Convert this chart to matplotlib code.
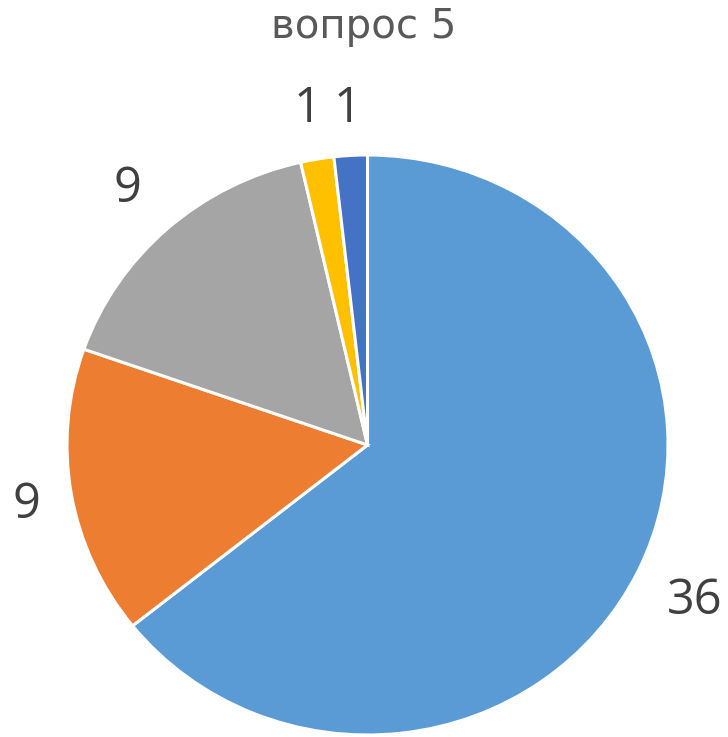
import matplotlib
matplotlib.use("Agg")
import matplotlib.pyplot as plt
import matplotlib.transforms as mtransforms
import numpy as np

title = "вопрос 5"
values = [36, 9, 9, 1, 1]
labels = [str(v) for v in values]
colors = ["#5B9BD5", "#ED7D31", "#A5A5A5", "#FFC000", "#4472C4"]

W, H = 728, 737
fig = plt.figure(figsize=(W / 100, H / 100), dpi=100)
# pie bounding box in pixels: x 67..668, y 155..735
ax = fig.add_axes([67 / W, (H - 735) / H, 601 / W, 580 / H])

wedges, texts = ax.pie(
    values, labels=labels, colors=colors, startangle=90, counterclock=False,
    labeldistance=1.18,
    wedgeprops=dict(edgecolor="white", linewidth=2.2),
    textprops=dict(fontsize=35, color="#404040", family=["Open Sans", "DejaVu Sans"]),
)
# per-label radial distance (layout only)
label_r = [1.21, 1.15, 1.20, 1.19, 1.175]
shift = mtransforms.ScaledTranslation(0, -4 / 100, fig.dpi_scale_trans)
for w, t, r in zip(wedges, texts, label_r):
    ang = np.deg2rad((w.theta1 + w.theta2) / 2)
    t.set_position((r * np.cos(ang), r * np.sin(ang)))
    t.set_horizontalalignment("center")
    t.set_verticalalignment("center")
    t.set_transform(ax.transData + shift)
ax.set_aspect("auto")
ax.set_xlim(-1, 1)
ax.set_ylim(-1, 1)
ax.axis("off")

fig.text(0.5, 1 - 27 / H, title, ha="center", va="center", fontsize=29,
         color="#595959", family=["DejaVu Sans"])

fig.savefig("out.png", dpi=100, facecolor="white")
